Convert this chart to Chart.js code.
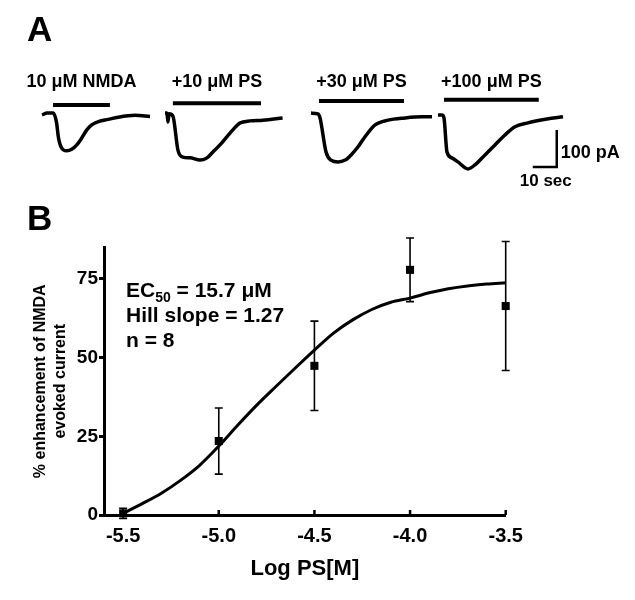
<!DOCTYPE html>
<html>
<head>
<meta charset="utf-8">
<script src="https://cdn.jsdelivr.net/npm/chart.js@4.4.1/dist/chart.umd.min.js"></script>
<style>
  body { margin: 0; background: #fff; }
  .wrap { position: relative; width: 635px; height: 600px; }
  canvas { position: absolute; left: 0; }
  #traceChart { top: 0; }
  #doseChart { top: 200px; }
</style>
</head>
<body>
<div class="wrap">
  <canvas id="traceChart" width="635" height="200"></canvas>
  <canvas id="doseChart" width="635" height="400"></canvas>
</div>
<script>
// ---------- panel A : NMDA evoked currents (time in s from sweep start, current in pA)
const sweepLabels = ['10 \u03bcM NMDA', '+10 \u03bcM PS', '+30 \u03bcM PS', '+100 \u03bcM PS']

const t1 = [0, 2.1, 4.7, 6.1, 6.8, 7.9, 10.3, 12.4, 14.5, 16.5, 18.6, 20.7, 23.5, 27.6, 31.8, 38.8, 45]
const i1 = [0, 5, 5, -22, -59, -86, -97, -93, -81, -63, -41, -27, -18, -12, -6, -1, -4]
const t2 = [0, 0.8, 1.25, 1.7, 3.3, 5.4, 7.5, 10.4, 14.6, 17.5, 20, 22.9, 27.1, 31.25, 35.4, 40.8, 49]
const i2 = [5, 5, -19, 3, -3, -95, -114, -116, -122, -116, -100, -81, -49, -22, -16, -14, -8]
const t3 = [0, 2.9, 3.75, 6.25, 8.3, 11.25, 14.2, 16.7, 19.6, 22.5, 26.7, 32.1, 39.2, 46.25, 50.4]
const i3 = [5, 3, -8, -100, -122, -127, -122, -108, -86, -59, -27, -14, -8, -5, -5]
const t4 = [0, 1.7, 2.5, 3.75, 5.8, 8.3, 12.5, 15.4, 19.6, 23.75, 27.9, 32.1, 37.1, 45.4, 52.1]
const i4 = [0, 0, -8, -100, -116, -127, -146, -135, -108, -81, -54, -32, -22, -11, -5]

// drug application (s from sweep start)
const appOn = [4.6, 3.3, 3.3, 2.5]
const appOff = [28.3, 40, 38.75, 42]

// ---------- panel B : concentration-response
const logPS = [-5.5, -5.0, -4.5, -4.0, -3.5]
const enhancement = [0.5, 23.5, 47.4, 77.9, 66.4]
const enhancementErr = [1.6, 10.5, 14.2, 10.1, 20.5]

const fitLogPS = [-5.5, -5.4, -5.3, -5.2, -5.1, -5.0, -4.9, -4.8, -4.7, -4.6, -4.5,
                  -4.4, -4.3, -4.2, -4.1, -4.0, -3.9, -3.8, -3.7, -3.6, -3.5]
const fitEnhancement = [0.5, 3.6, 6.9, 11.0, 15.8, 21.9, 28.6, 35.0, 40.9, 46.7, 52.4,
                        57.8, 62.0, 65.3, 67.6, 68.9, 70.6, 71.9, 72.8, 73.4, 73.8]

const xTicks = [-5.5, -5.0, -4.5, -4.0, -3.5]
const yTicks = [0, 25, 50, 75]

// ---------- layout (not data)
const FONT = "'Liberation Sans', Arial, sans-serif"
const sweepStart = [17.5, 68.75, 129.6, 182.5]  // where each sweep sits on the strip (s)
const barLevel = [27, 32, 38, 41]                // height of application bar above baseline (pA)
const scaleBar = { t: 232, i: -140.5, dt: 10, di: 100 }

const traces = [[t1, i1], [t2, i2], [t3, i3], [t4, i4]]
const traceSets = []
traces.forEach(([t, cur], k) => {
    traceSets.push({
        data: t.map((v, j) => ({ x: v + sweepStart[k], y: cur[j] })),
        borderColor: '#000',
        borderWidth: 3.5,
        pointRadius: 0,
        cubicInterpolationMode: 'monotone'
    })
    traceSets.push({
        data: [{ x: sweepStart[k] + appOn[k], y: barLevel[k] }, { x: sweepStart[k] + appOff[k], y: barLevel[k] }],
        borderColor: '#000',
        borderWidth: 4,
        pointRadius: 0
    })
})
traceSets.push({
    data: [
        { x: scaleBar.t - scaleBar.dt, y: scaleBar.i },
        { x: scaleBar.t, y: scaleBar.i },
        { x: scaleBar.t, y: scaleBar.i + scaleBar.di }
    ],
    borderColor: '#000',
    borderWidth: 2.5,
    pointRadius: 0
})

const traceText = {
    id: 'traceText',
    afterDraw(chart) {
        const { ctx, scales: { x, y } } = chart
        ctx.save()
        ctx.fillStyle = '#000'
        ctx.font = 'bold 35px ' + FONT
        ctx.textAlign = 'left'
        ctx.textBaseline = 'alphabetic'
        ctx.fillText('A', 27, 41)

        ctx.font = 'bold 18px ' + FONT
        ctx.textAlign = 'center'
        ctx.textBaseline = 'middle'
        sweepLabels.forEach((s, k) => {
            const mid = sweepStart[k] + (appOn[k] + appOff[k]) / 2
            ctx.fillText(s, x.getPixelForValue(mid), 82)
        })

        const cx = x.getPixelForValue(scaleBar.t)
        ctx.textAlign = 'left'
        ctx.fillText(scaleBar.di + ' pA', cx + 4, y.getPixelForValue(scaleBar.i + scaleBar.di * 0.37))
        ctx.font = 'bold 17px ' + FONT
        ctx.textAlign = 'center'
        ctx.fillText(scaleBar.dt + ' sec', x.getPixelForValue(scaleBar.t - scaleBar.dt / 2) + 1, y.getPixelForValue(scaleBar.i) + 14)
        ctx.restore()
    }
}

new Chart(document.getElementById('traceChart'), {
    type: 'line',
    data: { datasets: traceSets },
    options: {
        responsive: false,
        animation: false,
        events: [],
        layout: { padding: 0 },
        plugins: { legend: { display: false }, tooltip: { enabled: false } },
        scales: {
            x: { type: 'linear', display: false, min: 0, max: 264.6 },
            y: { type: 'linear', display: false, min: -230, max: 311 }
        }
    },
    plugins: [traceText]
})

// ---------- panel B chart
const errorBars = {
    id: 'errorBars',
    beforeDatasetsDraw(chart) {
        const { ctx, scales: { x, y } } = chart
        ctx.save()
        ctx.strokeStyle = '#000'
        ctx.lineWidth = 1.6
        logPS.forEach((v, i) => {
            const px = x.getPixelForValue(v)
            const top = y.getPixelForValue(enhancement[i] + enhancementErr[i])
            const bot = y.getPixelForValue(enhancement[i] - enhancementErr[i])
            ctx.beginPath()
            ctx.moveTo(px, top); ctx.lineTo(px, bot)
            ctx.moveTo(px - 4, top); ctx.lineTo(px + 4, top)
            ctx.moveTo(px - 4, bot); ctx.lineTo(px + 4, bot)
            ctx.stroke()
        })
        ctx.restore()
    }
}

const doseText = {
    id: 'doseText',
    afterDraw(chart) {
        const { ctx, scales: { x } } = chart
        ctx.save()
        ctx.fillStyle = '#000'
        ctx.strokeStyle = '#000'
        ctx.textBaseline = 'alphabetic'
        ctx.textAlign = 'left'
        ctx.font = 'bold 35px ' + FONT
        ctx.fillText('B', 27, 30)

        // inward x tick marks
        ctx.lineWidth = 2.5
        const base = chart.chartArea.bottom
        xTicks.forEach(v => {
            const px = x.getPixelForValue(v)
            ctx.beginPath()
            ctx.moveTo(px, base)
            ctx.lineTo(px, base - 5)
            ctx.stroke()
        })

        const left = 126
        ctx.font = 'bold 21px ' + FONT
        ctx.fillText('EC', left, 97)
        let w = ctx.measureText('EC').width
        ctx.font = 'bold 14px ' + FONT
        ctx.fillText('50', left + w, 102)
        w += ctx.measureText('50').width
        ctx.font = 'bold 21px ' + FONT
        ctx.fillText(' = 15.7 \u03bcM', left + w, 97)
        ctx.fillText('Hill slope = 1.27', left, 122)
        ctx.fillText('n = 8', left, 147)
        ctx.restore()
    }
}

new Chart(document.getElementById('doseChart'), {
    type: 'line',
    data: {
        datasets: [
            {
                data: fitLogPS.map((v, i) => ({ x: v, y: fitEnhancement[i] })),
                borderColor: '#000',
                borderWidth: 3,
                pointRadius: 0,
                cubicInterpolationMode: 'monotone',
                clip: false
            },
            {
                data: logPS.map((v, i) => ({ x: v, y: enhancement[i] })),
                showLine: false,
                pointStyle: 'rect',
                pointRadius: 5.7,
                backgroundColor: '#000',
                borderColor: '#000',
                borderWidth: 0,
                clip: false
            }
        ]
    },
    options: {
        responsive: false,
        animation: false,
        events: [],
        layout: { padding: { left: 0, top: 47.5, right: 129.3, bottom: 0 } },
        plugins: { legend: { display: false }, tooltip: { enabled: false } },
        scales: {
            x: {
                type: 'linear',
                min: -5.6,
                max: -3.5,
                afterBuildTicks: s => { s.ticks = xTicks.map(v => ({ value: v })) },
                afterFit: s => { s.height = 85 },
                ticks: {
                    color: '#000',
                    font: { family: FONT, size: 20, weight: 'bold' },
                    padding: 9,
                    maxRotation: 0,
                    autoSkip: false,
                    callback: v => v.toFixed(1)
                },
                grid: { display: false, drawTicks: false },
                border: { display: true, color: '#000', width: 3 },
                title: {
                    display: true,
                    text: 'Log PS[M]',
                    color: '#000',
                    font: { family: FONT, size: 22, weight: 'bold' },
                    padding: { top: 0, bottom: 18 }
                }
            },
            y: {
                type: 'linear',
                min: 0,
                max: 85,
                afterBuildTicks: s => { s.ticks = yTicks.map(v => ({ value: v })) },
                afterFit: s => { s.width = 104 },
                ticks: {
                    color: '#000',
                    font: { family: FONT, size: 19, weight: 'bold' },
                    padding: 1
                },
                grid: { display: true, drawOnChartArea: false, drawTicks: true, tickLength: 5, tickWidth: 3, color: '#000' },
                border: { display: true, color: '#000', width: 3 },
                title: {
                    display: true,
                    text: ['% enhancement of NMDA', 'evoked current'],
                    color: '#000',
                    font: { family: FONT, size: 16, weight: 'bold', lineHeight: 1.25 },
                    padding: { top: 31, bottom: 0 }
                }
            }
        }
    },
    plugins: [errorBars, doseText]
})
</script>
</body>
</html>
